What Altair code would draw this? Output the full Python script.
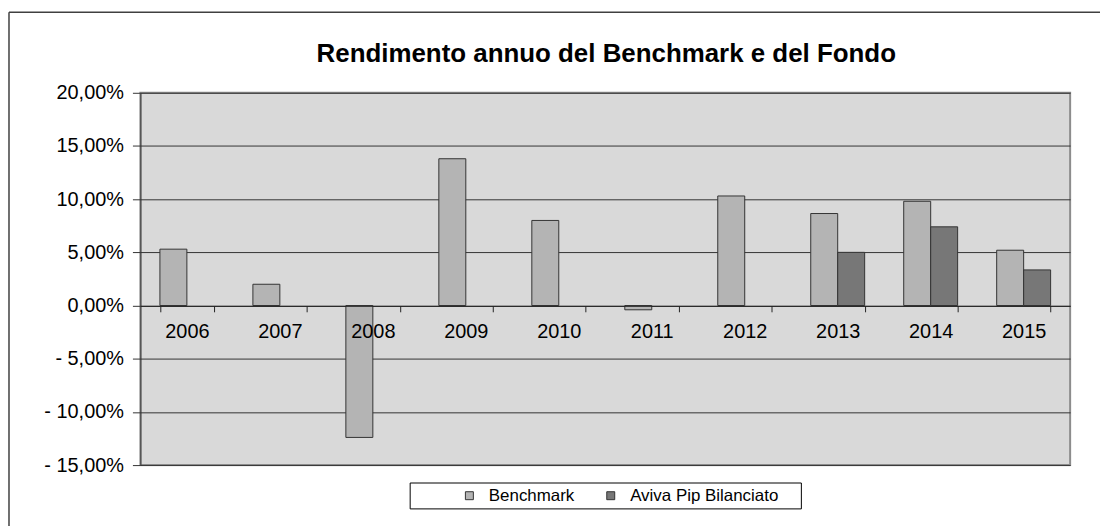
import altair as alt
import pandas as pd

years = ["2006", "2007", "2008", "2009", "2010", "2011", "2012", "2013", "2014", "2015"]
benchmark = [5.30, 2.00, -12.40, 13.80, 8.00, -0.40, 10.30, 8.65, 9.80, 5.20]
fondo = [None, None, None, None, None, None, None, 5.00, 7.40, 3.35]
series = ["Benchmark", "Aviva Pip Bilanciato"]
y_ticks = [-15, -10, -5, 0, 5, 10, 15, 20]
title_text = "Rendimento annuo del Benchmark e del Fondo"

rows = []
for yr, b, f in zip(years, benchmark, fondo):
    rows.append({"Anno": yr, "Serie": series[0], "Valore": b})
    if f is not None:
        rows.append({"Anno": yr, "Serie": series[1], "Valore": f})
df = pd.DataFrame(rows)

FONT = "Liberation Sans"
W, H = 934, 374

bars = alt.Chart(df).mark_bar(stroke="#333333", strokeWidth=1).encode(
    x=alt.X("Anno:N", sort=years,
            scale=alt.Scale(domain=years, paddingInner=0.42, paddingOuter=0.21),
            axis=alt.Axis(orient="bottom", offset=-160, tickBand="extent", tickSize=6,
                          labelPadding=10, labelAngle=0, labelFontSize=20, labelFont=FONT,
                          labelColor="black", domainColor="#222222", tickColor="#222222",
                          grid=False, title=None, zindex=1)),
    xOffset=alt.XOffset("Serie:N", scale=alt.Scale(domain=series, paddingInner=0, paddingOuter=0)),
    y=alt.Y("Valore:Q", scale=alt.Scale(domain=[-15, 20], nice=False, zero=False),
            axis=alt.Axis(values=y_ticks, tickSize=8, labelPadding=9, labelFontSize=20,
                          labelFont=FONT, labelColor="black",
                          labelExpr="(datum.value < 0 ? '- ' : '') + replace(format(abs(datum.value), '.2f'), '.', ',') + '%'",
                          domainColor="#333333", tickColor="#333333", gridColor="#333333",
                          gridWidth=1, grid=True, title=None)),
    color=alt.Color("Serie:N", scale=alt.Scale(domain=series, range=["#b4b4b4", "#777777"]),
                    legend=alt.Legend(title=None, orient="none", legendX=322, legendY=396,
                                      direction="horizontal", symbolType="square", symbolSize=64,
                                      symbolStrokeColor="#333333", symbolStrokeWidth=1,
                                      labelFont=FONT, labelFontSize=17, labelColor="black",
                                      columnPadding=28, labelOffset=11, padding=0)),
)

one = pd.DataFrame({"k": [0]})

frame_left = alt.Chart(one).mark_rule(color="#404040", strokeWidth=1.5).encode(
    x=alt.value(-132), y=alt.value(-81), y2=alt.value(460))
frame_top = alt.Chart(one).mark_rule(color="#404040", strokeWidth=1.5).encode(
    x=alt.value(-132), x2=alt.value(990), y=alt.value(-81))
legend_box = alt.Chart(one).mark_rect(fill="white", stroke="black", strokeWidth=1).encode(
    x=alt.value(271), x2=alt.value(664), y=alt.value(392), y2=alt.value(418))
title = alt.Chart(one).mark_text(text=title_text, font=FONT, fontSize=26, fontWeight="bold",
                                 align="center", baseline="alphabetic", color="black").encode(
    x=alt.value(468), y=alt.value(-31))

chart = alt.layer(frame_left, frame_top, legend_box, title, bars).properties(
    width=W, height=H,
    autosize=alt.AutoSizeParams(type="none"),
    padding={"left": 133, "top": 84, "right": 30, "bottom": 60},
    background="white",
).configure_view(fill="#d9d9d9", stroke="#8c8c8c", strokeWidth=2)

chart.save("out.html", embed_options={"renderer": "svg", "actions": False})
